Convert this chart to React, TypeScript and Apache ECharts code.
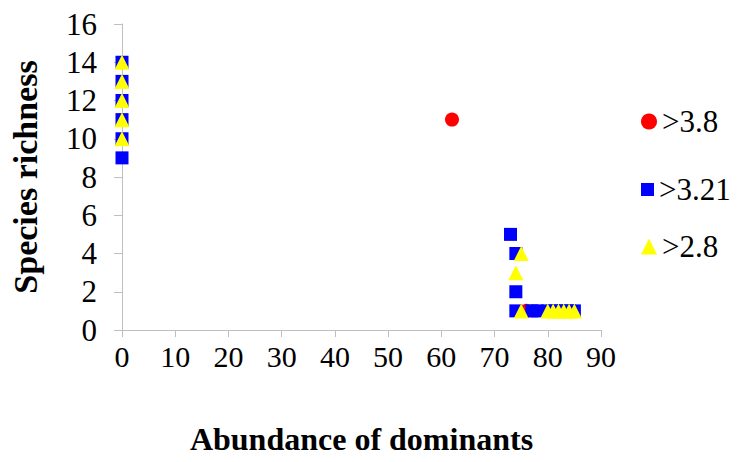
import React, { useEffect, useRef } from "react";
import * as echarts from "echarts";

const seriesNames = [">3.8", ">3.21", ">2.8"];
const redPoints: [number, number][] = [
  [62, 11],
  [76, 1],
];
const bluePoints: [number, number][] = [
  [0, 9], [0, 10], [0, 11], [0, 12], [0, 13], [0, 14],
  [73, 5], [74, 4], [74, 2], [74, 1], [77, 1], [78, 1],
  [80, 1], [81, 1], [82, 1], [83, 1], [84, 1], [85, 1],
];
const yellowPoints: [number, number][] = [
  [0, 10], [0, 11], [0, 12], [0, 13], [0, 14],
  [75, 4], [74, 3], [75, 1],
  [80, 1], [81, 1], [82, 1], [83, 1], [84, 1], [85, 1],
];

const FONT = "Liberation Serif, Times New Roman, serif";

export default function App() {
  const ref = useRef<HTMLDivElement>(null);
  useEffect(() => {
    if (!ref.current) return;
    const chart = echarts.init(ref.current, undefined, { renderer: "svg" });
    const axisGray = "#bfbfbf";
    const legendBase = {
      orient: "vertical",
      left: 636,
      itemWidth: 16,
      itemHeight: 16,
      itemGap: 6,
      textStyle: { fontFamily: FONT, fontSize: 31, color: "#000" },
    };
    chart.setOption({
      animation: false,
      backgroundColor: "#fff",
      grid: { left: 121, right: 139, top: 24, bottom: 132 },
      legend: [
        { ...legendBase, data: [{ name: seriesNames[0], icon: "circle" }], top: 101 },
        { ...legendBase, data: [{ name: seriesNames[1], icon: "rect" }], top: 169, itemWidth: 13, itemHeight: 13 },
        { ...legendBase, data: [{ name: seriesNames[2], icon: "triangle" }], top: 226 },
      ],
      xAxis: {
        type: "value",
        min: 0,
        max: 90,
        interval: 10,
        name: "Abundance of dominants",
        nameLocation: "middle",
        nameGap: 93,
        nameTextStyle: { fontFamily: FONT, fontSize: 32, fontWeight: "bold", color: "#000" },
        axisLine: { show: true, onZero: false, lineStyle: { color: axisGray } },
        axisTick: { show: true, length: 7, lineStyle: { color: axisGray } },
        splitLine: { show: false },
        axisLabel: { fontFamily: FONT, fontSize: 30, color: "#000", margin: 11 },
      },
      yAxis: {
        type: "value",
        min: 0,
        max: 16,
        interval: 2,
        name: "Species richness",
        nameLocation: "middle",
        nameGap: 80,
        nameTextStyle: { fontFamily: FONT, fontSize: 34, fontWeight: "bold", color: "#000" },
        axisLine: { show: true, lineStyle: { color: axisGray } },
        axisTick: { show: true, length: 8, lineStyle: { color: axisGray } },
        splitLine: { show: false },
        axisLabel: { fontFamily: FONT, fontSize: 31, color: "#000", margin: 25 },
      },
      series: [
        {
          name: seriesNames[0],
          type: "scatter",
          symbol: "circle",
          symbolSize: 14,
          itemStyle: { color: "#ff0000", opacity: 1 },
          data: redPoints,
          z: 2,
        },
        {
          name: seriesNames[1],
          type: "scatter",
          symbol: "rect",
          symbolSize: 13,
          itemStyle: { color: "#0000ff", opacity: 1 },
          data: bluePoints,
          z: 3,
        },
        {
          name: seriesNames[2],
          type: "scatter",
          symbol: "triangle",
          symbolSize: 15,
          itemStyle: { color: "#ffff00", opacity: 1 },
          data: yellowPoints,
          z: 4,
        },
      ],
    });
    return () => chart.dispose();
  }, []);
  return <div ref={ref} style={{ width: 740, height: 462, position: "absolute", left: 0, top: 0 }} />;
}
